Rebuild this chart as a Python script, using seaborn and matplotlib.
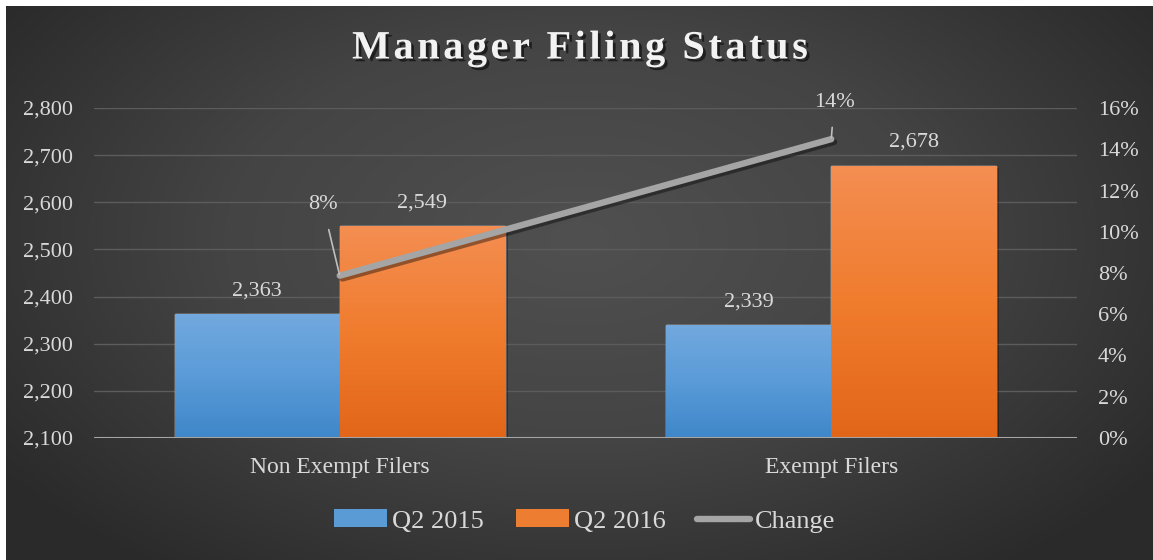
import numpy as np
import pandas as pd
import matplotlib
matplotlib.use("Agg")
import matplotlib.pyplot as plt
import matplotlib.patheffects as pe
from matplotlib.colors import LinearSegmentedColormap
from matplotlib.patches import Patch
from matplotlib.lines import Line2D
import seaborn as sns

# ---- data ----
categories = ["Non Exempt Filers", "Exempt Filers"]
series_names = ["Q2 2015", "Q2 2016"]
q2_2015 = [2363, 2339]
q2_2016 = [2549, 2678]
change = [0.0787, 0.1449]
change_labels = ["8%", "14%"]
left_ticks = [2100, 2200, 2300, 2400, 2500, 2600, 2700, 2800]
right_ticks = [0.0, 0.02, 0.04, 0.06, 0.08, 0.10, 0.12, 0.14, 0.16]
title = "Manager Filing Status"

df = pd.DataFrame({
    "category": categories * 2,
    "series": [series_names[0]] * 2 + [series_names[1]] * 2,
    "value": q2_2015 + q2_2016,
})

sns.set_theme(style="white")
plt.rcParams["font.family"] = ["Liberation Serif", "DejaVu Serif"]

W, H = 1153, 560
fig = plt.figure(figsize=(W / 100, H / 100), dpi=100, facecolor="white")

# background gradient
bg = fig.add_axes([6 / W, 0, 1 - 6 / W, 1 - 6 / H], zorder=-10)
yy, xx = np.mgrid[0:1:300j, 0:1:600j]
d = np.sqrt(((xx - 0.5) / 0.62) ** 2 + ((yy - 0.42) / 0.75) ** 2)
d = np.clip(d, 0, 1)
cm_bg = LinearSegmentedColormap.from_list("bg", ["#505050", "#444444", "#2a2a2a"])
bg.imshow(d, cmap=cm_bg, aspect="auto", extent=[0, 1, 1, 0], vmin=0, vmax=1)
bg.set_axis_off()

ax = fig.add_axes([94 / W, (H - 438) / H, (1077 - 94) / W, (438 - 108) / H])
ax.patch.set_alpha(0)

blue = "#5b9bd5"
orange = "#ed7d31"
sns.barplot(data=df, x="category", y="value", hue="series", order=categories,
            hue_order=series_names, palette=[blue, orange], width=0.672, gap=0,
            ax=ax, legend=False, saturation=1, zorder=3)

ax.set_ylim(2100, 2800)
ax.set_xlim(-0.5, 1.5)
ax.set_yticks(left_ticks)
ax.set_yticklabels([f"{v:,}" for v in left_ticks])
ax.set_xlabel("")
ax.set_ylabel("")
for s in ax.spines.values():
    s.set_visible(False)
ax.grid(axis="y", color="#5c5c5c", lw=1, zorder=0)
ax.axhline(2100, color="#a6a6a6", lw=2.2, zorder=6)
txtc = "#d9d9d9"
ax.tick_params(axis="y", length=0, pad=15, labelsize=16, labelcolor=txtc)
ax.tick_params(axis="x", length=0, pad=14, labelsize=17, labelcolor=txtc)

# gradient fills for bars
grads = {
    0: LinearSegmentedColormap.from_list("b", ["#3f87c9", "#5a9bd8", "#72a9de"]),
    1: LinearSegmentedColormap.from_list("o", ["#e2661a", "#f07c2e", "#f48e52"]),
}
patches = list(ax.patches)
vals = q2_2015 + q2_2016
for i, p in enumerate(patches):
    x0, y0 = p.get_x(), p.get_y()
    w, h = p.get_width(), p.get_height()
    p.set_path_effects([pe.SimplePatchShadow(offset=(2, -2), shadow_rgbFace="black", alpha=0.3),
                        pe.Normal()])
    g = np.linspace(0, 1, 256).reshape(-1, 1)
    im = ax.imshow(g, cmap=grads[i // 2], aspect="auto", origin="lower",
                   extent=[x0, x0 + w, 2100, y0 + h], zorder=4)
    im.set_clip_path(p)
    ax.annotate(f"{vals[i]:,}", xy=(x0 + w / 2, y0 + h), xytext=(0, 23 * 0.72),
                textcoords="offset points", ha="center", va="center",
                fontsize=16, color=txtc, zorder=8)
ax.set_xlim(-0.5, 1.5)
ax.set_ylim(2100, 2800)

# secondary axis: change line
ax2 = ax.twinx()
sns.lineplot(x=[0, 1], y=change, ax=ax2, color="#a5a5a5", lw=4.6, zorder=7,
             solid_capstyle="round",
             path_effects=[pe.SimpleLineShadow(offset=(2, -2), shadow_color="black", alpha=0.4),
                           pe.Normal()])
ax2.set_ylim(0, 0.16)
ax2.set_xlim(-0.5, 1.5)
ax2.set_yticks(right_ticks)
ax2.set_yticklabels([f"{v:.0%}" for v in right_ticks])
ax2.tick_params(axis="y", length=0, pad=15, labelsize=16, labelcolor=txtc)
for s in ax2.spines.values():
    s.set_visible(False)
ax2.grid(False)

offsets = [(-17 * 0.72, 71 * 0.72), (3 * 0.72, 37 * 0.72)]
for i, (v, lab) in enumerate(zip(change, change_labels)):
    ax2.annotate(lab, xy=(i, v), xytext=offsets[i], textcoords="offset points",
                 ha="center", va="center", fontsize=16, color=txtc, zorder=9,
                 arrowprops=dict(arrowstyle="-", color="#bfbfbf", lw=1.2,
                                 shrinkA=9, shrinkB=1))

# title with letter spacing
renderer = fig.canvas.get_renderer()
tkw = dict(fontsize=29, fontweight="bold", color="#f2f2f2", va="center", ha="left",
           path_effects=[pe.withSimplePatchShadow(offset=(2, -2), shadow_rgbFace="black", alpha=0.55)])

def text_w(s):
    t = fig.text(0, 0, s, **{k: v for k, v in tkw.items() if k != "path_effects"})
    w = t.get_window_extent(renderer).width
    t.remove()
    return w

ref_w = text_w("x")
spacing = 3.6
prefix = [text_w(title[:i] + "x") - ref_w for i in range(len(title))]
total = text_w(title) + spacing * (len(title) - 1)
x_start = 580 - total / 2
for i, ch in enumerate(title):
    if ch == " ":
        continue
    fig.text((x_start + prefix[i] + spacing * i) / W, 1 - 49 / H, ch, **tkw)

# legend
handles = [Patch(facecolor=blue, edgecolor="none"),
           Patch(facecolor=orange, edgecolor="none"),
           Line2D([0], [0], color="#a5a5a5", lw=4.6, solid_capstyle="round")]
leg = fig.legend(handles, series_names + ["Change"], loc="center",
                 bbox_to_anchor=(585 / W, 1 - 521 / H), ncol=3, frameon=False,
                 fontsize=19, handlelength=2.0, handleheight=0.65, handletextpad=0.2,
                 columnspacing=1.2)
for t in leg.get_texts():
    t.set_color(txtc)

fig.savefig("out.png", dpi=100, facecolor="white")
